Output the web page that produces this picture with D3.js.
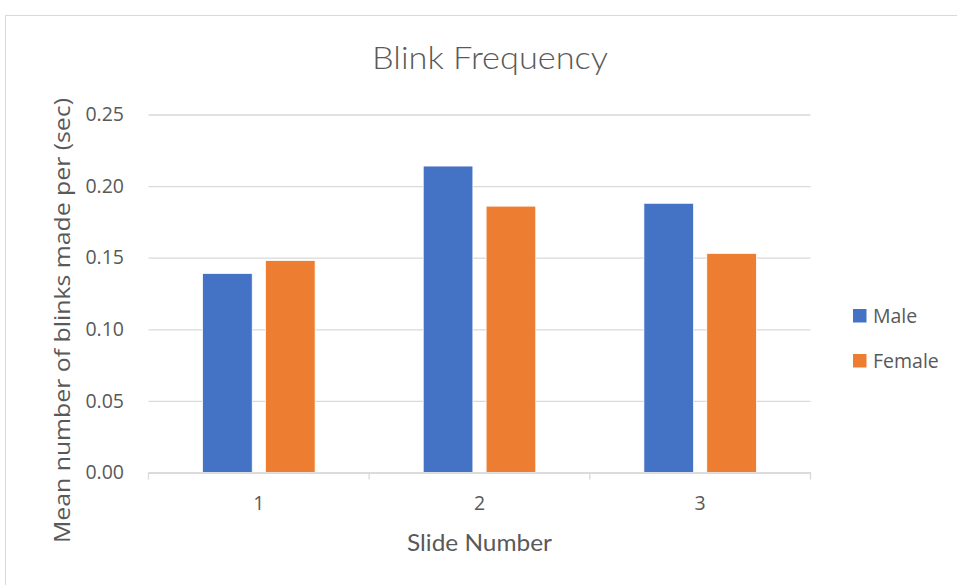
<!DOCTYPE html>
<html>
<head>
<meta charset="utf-8">
<script src="https://cdn.jsdelivr.net/npm/d3@7"></script>
<style>
  html, body { margin: 0; padding: 0; background: #fff; }
  svg { display: block; }
</style>
</head>
<body>
<svg id="chart" width="957" height="585"></svg>
<script>
// Blink frequency per slide, split by sex
const slides = ["1", "2", "3"];
const seriesNames = ["Male", "Female"];
const maleValues = [0.139, 0.214, 0.188];
const femaleValues = [0.148, 0.186, 0.153];
const yTicks = [0, 0.05, 0.10, 0.15, 0.20, 0.25];
const colors = ["#4472C4", "#ED7D31"];

const titleText = "Blink Frequency";
const xTitle = "Slide Number";
const yTitle = "Mean number of blinks made per (sec)";

const svg = d3.select("#chart");
const textColor = "#595959";
const gridColor = "#d9d9d9";

// Outer chart border
svg.append("rect")
  .attr("x", 5.5).attr("y", 15.5)
  .attr("width", 1000).attr("height", 1000)
  .attr("fill", "#fff")
  .attr("stroke", gridColor).attr("stroke-width", 1);

const plot = { left: 148.5, right: 810.5, top: 114.5, bottom: 472.5 };

const x = d3.scaleBand()
  .domain(slides)
  .range([plot.left, plot.right])
  .paddingInner(0).paddingOuter(0);

const y = d3.scaleLinear()
  .domain([0, 0.25])
  .range([plot.bottom, plot.top]);

// Bar geometry within each category
const barW = x.bandwidth() * 0.225;
const barGap = x.bandwidth() * 0.06;
const groupW = barW * 2 + barGap;

// Gridlines + y tick labels
const yAxis = d3.axisLeft(y)
  .tickValues(yTicks)
  .tickFormat(d3.format(".2f"))
  .tickSize(-(plot.right - plot.left))
  .tickPadding(24.5);

const gy = svg.append("g")
  .attr("transform", `translate(${plot.left},0)`)
  .call(yAxis);
gy.select(".domain").remove();
gy.selectAll(".tick line")
  .attr("stroke", gridColor).attr("stroke-width", 1.3);
gy.selectAll(".tick text")
  .attr("fill", textColor)
  .style("font-family", "'Open Sans', sans-serif")
  .style("font-size", "19.5px");

// Bars
const data = slides.map((s, i) => ({ slide: s, values: [maleValues[i], femaleValues[i]] }));

const groups = svg.append("g").selectAll("g")
  .data(data)
  .join("g")
  .attr("transform", d => `translate(${x(d.slide) + (x.bandwidth() - groupW) / 2},0)`);

groups.selectAll("rect")
  .data(d => d.values.map((v, j) => ({ name: seriesNames[j], value: v, j })))
  .join("rect")
  .attr("x", d => d.j * (barW + barGap))
  .attr("width", barW)
  .attr("y", d => y(d.value))
  .attr("height", d => y(0) - y(d.value))
  .attr("fill", d => colors[d.j])
  .attr("stroke", "#fff")
  .attr("stroke-width", 0.75);

// Category axis with boundary ticks
const xAxis = d3.axisBottom(x).tickSize(0).tickPadding(24);
const gx = svg.append("g")
  .attr("transform", `translate(0,${plot.bottom})`)
  .call(xAxis);
gx.select(".domain").attr("stroke", gridColor).attr("stroke-width", 1.3);
gx.selectAll(".tick text")
  .attr("fill", textColor)
  .style("font-family", "'Open Sans', sans-serif")
  .style("font-size", "19.5px");

const boundaries = slides.map(s => x(s)).concat([x(slides[slides.length - 1]) + x.bandwidth()]);
svg.append("g").selectAll("line")
  .data(boundaries)
  .join("line")
  .attr("x1", d => d).attr("x2", d => d)
  .attr("y1", plot.bottom).attr("y2", plot.bottom + 7)
  .attr("stroke", gridColor).attr("stroke-width", 1.3);

// Title
svg.append("text")
  .attr("x", 490).attr("y", 69)
  .attr("text-anchor", "middle")
  .attr("fill", textColor)
  .style("font-family", "Lato, sans-serif")
  .style("font-weight", 300)
  .style("font-size", "32px")
  .attr("textLength", 236)
  .attr("lengthAdjust", "spacingAndGlyphs")
  .text(titleText);

// Axis titles
svg.append("text")
  .attr("x", (plot.left + plot.right) / 2).attr("y", 551)
  .attr("text-anchor", "middle")
  .attr("fill", textColor)
  .style("font-family", "Lato, sans-serif")
  .style("font-size", "23.5px")
  .attr("textLength", 145)
  .attr("lengthAdjust", "spacingAndGlyphs")
  .text(xTitle);

svg.append("text")
  .attr("transform", "translate(70,320.5) rotate(-90)")
  .attr("text-anchor", "middle")
  .attr("fill", textColor)
  .style("font-family", "'Open Sans', sans-serif")
  .style("font-size", "22.5px")
  .attr("textLength", 445)
  .attr("lengthAdjust", "spacingAndGlyphs")
  .text(yTitle);

// Legend
const legend = svg.append("g").selectAll("g")
  .data(seriesNames)
  .join("g")
  .attr("transform", (d, i) => `translate(853,${309 + i * 45})`);
legend.append("rect")
  .attr("width", 13.5).attr("height", 13.5)
  .attr("fill", (d, i) => colors[i]);
legend.append("text")
  .attr("x", 20).attr("y", 14)
  .attr("fill", textColor)
  .style("font-family", "'Open Sans', sans-serif")
  .style("font-size", "19.5px")
  .text(d => d);
</script>
</body>
</html>
